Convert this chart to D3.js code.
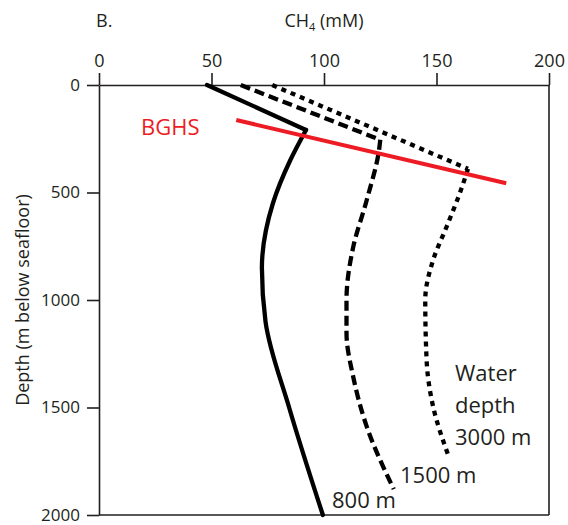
<!DOCTYPE html>
<html><head><meta charset="utf-8">
<script src="https://cdn.jsdelivr.net/npm/d3@7"></script>
<style>
body{margin:0;background:#fff;}
text{font-family:"Open Sans","Noto Sans",sans-serif;fill:#231f20;}
</style></head>
<body><svg id="c" width="568" height="525"></svg>
<script>
// ---- data ----
const xTicks = [0, 50, 100, 150, 200];
const yTicks = [0, 500, 1000, 1500, 2000];
// 800 m water depth (solid)
const depth800 = [0, 209, 350, 550, 850, 1100, 1500, 2000];
const ch4_800  = [48, 92, 85, 77.3, 72.4, 74, 84.5, 99.5];
// 1500 m water depth (dashed)
const depth1500 = [0, 255, 300, 535, 753, 1000, 1153, 1358, 1589, 1880];
const ch4_1500  = [63, 125, 124.5, 119, 113, 110, 110, 113, 119, 131];
// 3000 m water depth (dotted)
const depth3000 = [0, 390, 502, 659, 814, 1000, 1279, 1496, 1730];
const ch4_3000  = [77, 164, 160.4, 154.5, 148.5, 145, 145.6, 148.5, 155.5];
// BGHS line
const bghsCH4 = [61, 181];
const bghsDepth = [163, 457];

const svg = d3.select("#c");
const x = d3.scaleLinear().domain([0, 200]).range([99, 549]);
const y = d3.scaleLinear().domain([0, 2000]).range([85, 515]);
const axisColor = "#231f20";

// axes
const gx = svg.append("g").attr("transform", `translate(0,${y(0)})`)
  .call(d3.axisTop(x).tickValues(xTicks).tickFormat(d3.format("d")).tickSize(12).tickSizeOuter(0).tickPadding(6));
const gy = svg.append("g").attr("transform", `translate(${x(0)},0)`)
  .call(d3.axisLeft(y).tickValues(yTicks).tickFormat(d3.format("d")).tickSize(12).tickSizeOuter(0).tickPadding(7));
[gx, gy].forEach(g => {
  g.select(".domain").attr("stroke", axisColor).attr("stroke-width", 1.6);
  g.selectAll(".tick line").attr("stroke", axisColor).attr("stroke-width", 1.6);
  g.selectAll(".tick text").attr("font-size", 18).attr("font-family", '"Open Sans",sans-serif').attr("fill", axisColor);
});
gy.selectAll(".tick text").attr("dy", "0.3em").attr("font-size", 17);
// box right and bottom
svg.append("line").attr("x1", x(200)).attr("x2", x(200)).attr("y1", y(0)).attr("y2", y(2000))
  .attr("stroke", axisColor).attr("stroke-width", 1.6);
svg.append("line").attr("x1", x(0)).attr("x2", x(200)).attr("y1", y(2000)).attr("y2", y(2000))
  .attr("stroke", axisColor).attr("stroke-width", 1.6);

// titles
svg.append("text").attr("x", 96).attr("y", 27).attr("font-size", 18).text("B.");
const t = svg.append("text").attr("x", (x(0) + x(200)) / 2).attr("y", 27).attr("text-anchor", "middle").attr("font-size", 18);
t.append("tspan").text("CH");
t.append("tspan").attr("font-size", 11).attr("dy", 4).text("4");
t.append("tspan").attr("dy", -4).text(" (mM)");
svg.append("text").attr("transform", `translate(29,${(y(0) + y(2000)) / 2}) rotate(-90)`)
  .attr("text-anchor", "middle").attr("font-size", 18).text("Depth (m below seafloor)");

// lines: straight upper segment to BGHS corner, smooth curve below
const zip = (a, b) => a.map((v, i) => [v, b[i]]);
const straight = d3.line().x(d => x(d[0])).y(d => y(d[1]));
const smooth = d3.line().x(d => x(d[0])).y(d => y(d[1])).curve(d3.curveMonotoneY);
function profile(ch4, depth, dash) {
  const pts = zip(ch4, depth);
  const g = svg.append("g").attr("fill", "none").attr("stroke", "#000").attr("stroke-width", 4.3);
  if (dash) g.attr("stroke-dasharray", dash);
  else g.attr("stroke-linecap", "round");
  g.append("path").attr("d", straight(pts.slice(0, 2)));
  g.append("path").attr("d", smooth(pts.slice(1)));
}
profile(ch4_800, depth800, null);
profile(ch4_1500, depth1500, "10,5");
profile(ch4_3000, depth3000, "5,5");
svg.append("path").datum(zip(bghsCH4, bghsDepth)).attr("d", straight)
  .attr("fill", "none").attr("stroke", "#ed1c24").attr("stroke-width", 4);

// labels
svg.append("text").attr("x", 141).attr("y", 135).attr("font-size", 22).style("fill", "#ed1c24").text("BGHS");
svg.append("text").attr("x", 455).attr("y", 381).attr("font-size", 22).text("Water");
svg.append("text").attr("x", 455).attr("y", 413).attr("font-size", 22).text("depth");
svg.append("text").attr("x", 455).attr("y", 445).attr("font-size", 22).text("3000 m");
svg.append("text").attr("x", 400).attr("y", 483).attr("font-size", 22).text("1500 m");
svg.append("text").attr("x", 332).attr("y", 508).attr("font-size", 22).text("800 m");
</script></body></html>
